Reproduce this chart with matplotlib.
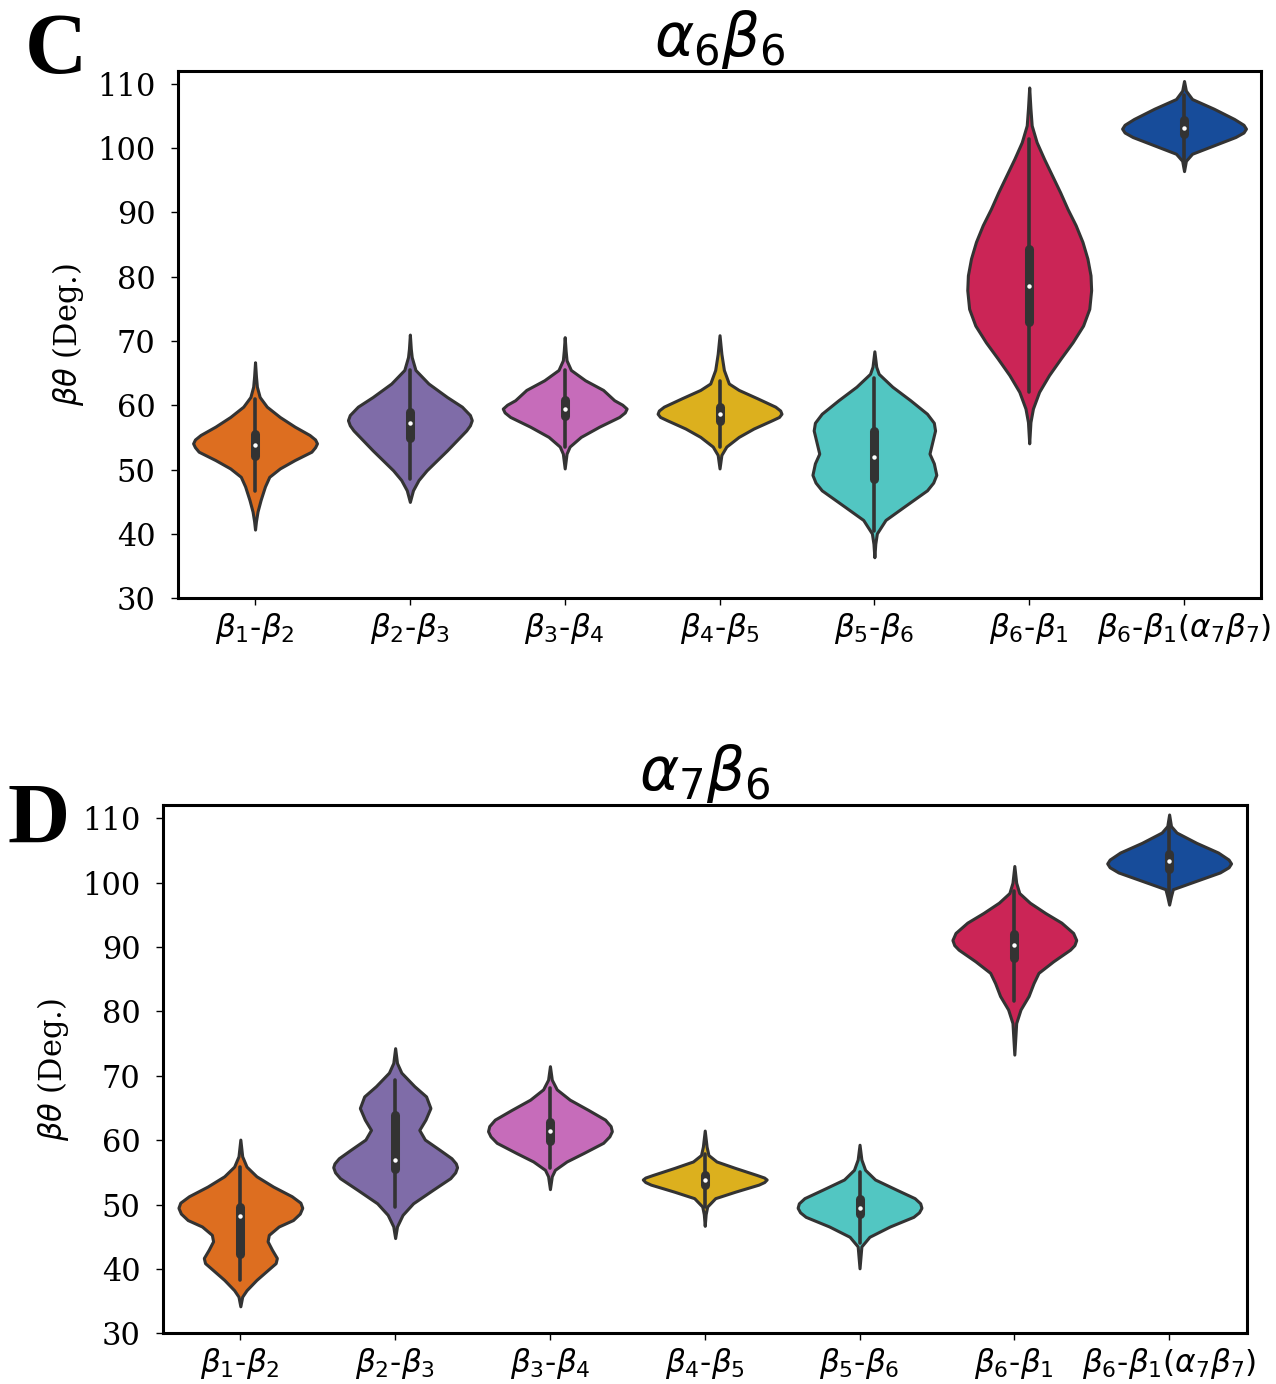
import matplotlib
matplotlib.use("Agg")
import matplotlib.pyplot as plt
import numpy as np

plt.rcParams["font.family"] = "DejaVu Serif"
plt.rcParams["mathtext.fontset"] = "dejavusans"

categories = [r"$\beta_1$-$\beta_2$", r"$\beta_2$-$\beta_3$", r"$\beta_3$-$\beta_4$",
              r"$\beta_4$-$\beta_5$", r"$\beta_5$-$\beta_6$", r"$\beta_6$-$\beta_1$",
              r"$\beta_6$-$\beta_1$($\alpha_7\beta_7$)"]
colors = ["#dd6e20", "#7f6ca8", "#c66cba", "#dcb01e", "#52c6c2", "#cb2556", "#174c9a"]

# violin outlines: angle values and relative half-width
c_prof_y = [
    [66.7, 64.5, 62.9, 61.3, 59.8, 58.2, 56.7, 55.4, 54.7, 54.1, 53.5, 52.8, 51.5, 50.2, 48.9, 47.4, 45.3, 43.5, 42.0, 40.7],
    [71.0, 68.8, 67.5, 65.5, 63.4, 61.3, 59.8, 58.5, 57.7, 56.9, 56.1, 54.6, 53.0, 51.5, 49.9, 48.4, 46.8, 45.0],
    [70.6, 68.5, 67.0, 65.5, 63.9, 62.4, 60.8, 60.1, 59.5, 58.9, 58.2, 56.7, 55.1, 53.6, 52.5, 50.2],
    [70.9, 68.0, 65.5, 63.4, 62.4, 61.1, 59.8, 59.2, 58.7, 58.2, 57.7, 56.4, 55.1, 53.6, 52.3, 50.2],
    [68.4, 66.0, 64.9, 62.9, 60.8, 58.7, 57.3, 56.1, 54.1, 52.5, 51.0, 49.2, 48.0, 46.8, 44.2, 42.2, 40.1, 38.5, 36.4],
    [109.4, 106.1, 103.5, 100.9, 98.3, 95.7, 93.1, 90.5, 88.0, 85.4, 82.8, 80.2, 77.9, 75.0, 72.4, 69.8, 67.3, 64.7, 62.1, 59.5, 57.4, 54.1],
    [110.4, 108.9, 107.6, 106.1, 104.5, 103.6, 103.0, 102.4, 101.7, 100.4, 99.1, 98.0, 96.4],
]
c_prof_w = [
    [0, 0.015, 0.03, 0.075, 0.19, 0.40, 0.64, 0.88, 0.97, 1.0, 0.97, 0.91, 0.64, 0.40, 0.23, 0.16, 0.09, 0.04, 0.015, 0],
    [0, 0.015, 0.03, 0.09, 0.30, 0.60, 0.84, 0.97, 1.0, 0.97, 0.91, 0.76, 0.60, 0.44, 0.27, 0.14, 0.05, 0],
    [0, 0.015, 0.03, 0.10, 0.33, 0.62, 0.80, 0.93, 1.0, 0.97, 0.88, 0.56, 0.26, 0.08, 0.03, 0],
    [0, 0.03, 0.07, 0.15, 0.31, 0.61, 0.90, 0.98, 1.0, 0.96, 0.85, 0.55, 0.31, 0.11, 0.03, 0],
    [0, 0.03, 0.07, 0.29, 0.58, 0.85, 0.96, 0.98, 0.93, 0.89, 0.96, 1.0, 0.95, 0.85, 0.47, 0.18, 0.04, 0.015, 0],
    [0, 0.02, 0.04, 0.12, 0.24, 0.37, 0.50, 0.62, 0.75, 0.86, 0.94, 0.99, 1.0, 0.97, 0.87, 0.70, 0.51, 0.32, 0.16, 0.06, 0.02, 0],
    [0, 0.03, 0.13, 0.48, 0.81, 0.96, 1.0, 0.96, 0.83, 0.48, 0.13, 0.03, 0],
]
c_q1 = [52.2, 54.9, 58.3, 57.5, 48.6, 73.0, 102.1]
c_median = [53.8, 57.3, 59.5, 58.6, 52.0, 78.5, 103.1]
c_q3 = [55.5, 58.9, 60.8, 59.8, 56.0, 84.3, 104.3]
c_whislo = [46.7, 48.5, 53.6, 53.5, 40.5, 62.1, 98.0]
c_whishi = [61.0, 65.5, 65.5, 63.8, 64.2, 101.4, 108.3]

d_prof_y = [
    [60.1, 57.5, 55.9, 54.4, 52.8, 51.3, 50.3, 49.5, 48.6, 47.6, 46.6, 45.3, 44.3, 43.0, 41.7, 40.9, 39.9, 38.3, 36.7, 35.7, 34.2],
    [74.3, 72.0, 70.5, 68.4, 66.8, 65.0, 63.2, 61.6, 60.1, 58.5, 57.2, 56.4, 55.8, 55.0, 54.1, 52.3, 50.2, 48.4, 46.6, 44.8],
    [71.5, 69.4, 67.9, 66.3, 64.7, 63.2, 62.2, 61.4, 60.6, 59.6, 58.0, 56.7, 55.4, 54.4, 52.4],
    [61.5, 59.0, 57.7, 56.7, 55.7, 54.6, 54.2, 53.9, 53.5, 53.1, 52.0, 51.0, 49.7, 48.5, 46.7],
    [59.3, 57.0, 55.4, 53.9, 52.3, 51.0, 50.2, 49.5, 48.8, 48.1, 46.6, 45.0, 43.5, 40.1],
    [102.6, 100.0, 98.4, 96.9, 95.3, 93.8, 92.2, 91.1, 90.3, 89.6, 87.8, 86.0, 84.4, 82.4, 80.3, 78.2, 73.3],
    [110.6, 108.8, 107.8, 106.2, 104.7, 103.6, 103.0, 102.4, 101.6, 100.3, 99.0, 97.9, 96.6],
]
d_prof_w = [
    [0, 0.03, 0.10, 0.26, 0.53, 0.83, 0.97, 1.0, 0.96, 0.85, 0.62, 0.46, 0.44, 0.51, 0.59, 0.57, 0.45, 0.26, 0.10, 0.03, 0],
    [0, 0.03, 0.10, 0.31, 0.50, 0.57, 0.49, 0.39, 0.48, 0.72, 0.91, 0.98, 1.0, 0.97, 0.89, 0.61, 0.29, 0.12, 0.03, 0],
    [0, 0.03, 0.11, 0.32, 0.62, 0.89, 0.98, 1.0, 0.96, 0.86, 0.54, 0.27, 0.08, 0.03, 0],
    [0, 0.03, 0.06, 0.19, 0.49, 0.84, 0.96, 1.0, 0.96, 0.87, 0.49, 0.17, 0.04, 0.015, 0],
    [0, 0.03, 0.09, 0.25, 0.60, 0.89, 0.98, 1.0, 0.96, 0.87, 0.49, 0.16, 0.03, 0],
    [0, 0.03, 0.08, 0.25, 0.50, 0.76, 0.95, 1.0, 0.97, 0.90, 0.63, 0.39, 0.31, 0.23, 0.10, 0.03, 0],
    [0, 0.03, 0.12, 0.44, 0.79, 0.96, 1.0, 0.96, 0.82, 0.44, 0.06, 0.03, 0],
]
d_q1 = [42.3, 55.5, 59.9, 53.0, 48.5, 88.3, 102.2]
d_median = [48.3, 56.9, 61.5, 53.8, 49.5, 90.4, 103.3]
d_q3 = [49.6, 63.9, 62.9, 54.6, 50.8, 92.0, 104.5]
d_whislo = [38.3, 49.7, 55.7, 49.7, 44.0, 81.7, 97.8]
d_whishi = [55.9, 69.4, 68.1, 57.8, 55.0, 98.7, 109.1]

yticks = [30, 40, 50, 60, 70, 80, 90, 100, 110]
line_gray = "#333333"


def draw_panel(ax, title, prof_y, prof_w, q1, med, q3, lo, hi):
    pos = np.arange(len(categories))
    stats = []
    for i in range(len(categories)):
        stats.append({"coords": np.array(prof_y[i]), "vals": np.array(prof_w[i]),
                      "mean": med[i], "median": med[i], "min": lo[i], "max": hi[i]})
    parts = ax.violin(stats, positions=pos, widths=0.8, showmeans=False,
                      showextrema=False, showmedians=False)
    for body, col in zip(parts["bodies"], colors):
        body.set_facecolor(col)
        body.set_edgecolor(line_gray)
        body.set_linewidth(2.2)
        body.set_joinstyle("round")
        body.set_alpha(1)
        body.set_zorder(2)
    for i in pos:
        ax.plot([i, i], [lo[i], hi[i]], color=line_gray, lw=2.6,
                solid_capstyle="round", zorder=3)
        ax.plot([i, i], [q1[i], q3[i]], color=line_gray, lw=6.5,
                solid_capstyle="round", zorder=3)
        ax.plot(i, med[i], "o", color="white", markersize=3.2, mec="none", zorder=4)
    ax.set_xlim(-0.5, 6.5)
    ax.set_ylim(30, 112)
    ax.set_yticks(yticks)
    ax.set_yticklabels([str(v) for v in yticks], fontsize=22)
    ax.set_xticks(pos)
    ax.set_xticklabels(categories, fontsize=22.5, fontfamily="DejaVu Sans")
    ax.tick_params(axis="y", length=5, width=1, pad=11)
    ax.tick_params(axis="x", length=5, width=1, pad=4)
    for sp in ax.spines.values():
        sp.set_linewidth(2.2)
        sp.set_color("black")
    ax.set_ylabel(r"$\beta\theta$ (Deg.)", fontsize=22, labelpad=8)
    ax.set_title(title, fontsize=43, pad=7)


fig = plt.figure(figsize=(12.76, 13.84), dpi=100)
ax_c = fig.add_axes([0.1392, 0.5676, 0.8494, 0.3813])
ax_d = fig.add_axes([0.1277, 0.0366, 0.8492, 0.3814])

draw_panel(ax_c, r"$\alpha_6\beta_6$", c_prof_y, c_prof_w, c_q1, c_median, c_q3, c_whislo, c_whishi)
draw_panel(ax_d, r"$\alpha_7\beta_6$", d_prof_y, d_prof_w, d_q1, d_median, d_q3, d_whislo, d_whishi)

fig.text(0.0196, 0.9473, "C", fontsize=62, fontweight="bold",
         fontfamily="Liberation Serif", va="baseline", ha="left")
fig.text(0.0055, 0.391, "D", fontsize=62, fontweight="bold",
         fontfamily="Liberation Serif", va="baseline", ha="left")

fig.savefig("out.png", dpi=100)
